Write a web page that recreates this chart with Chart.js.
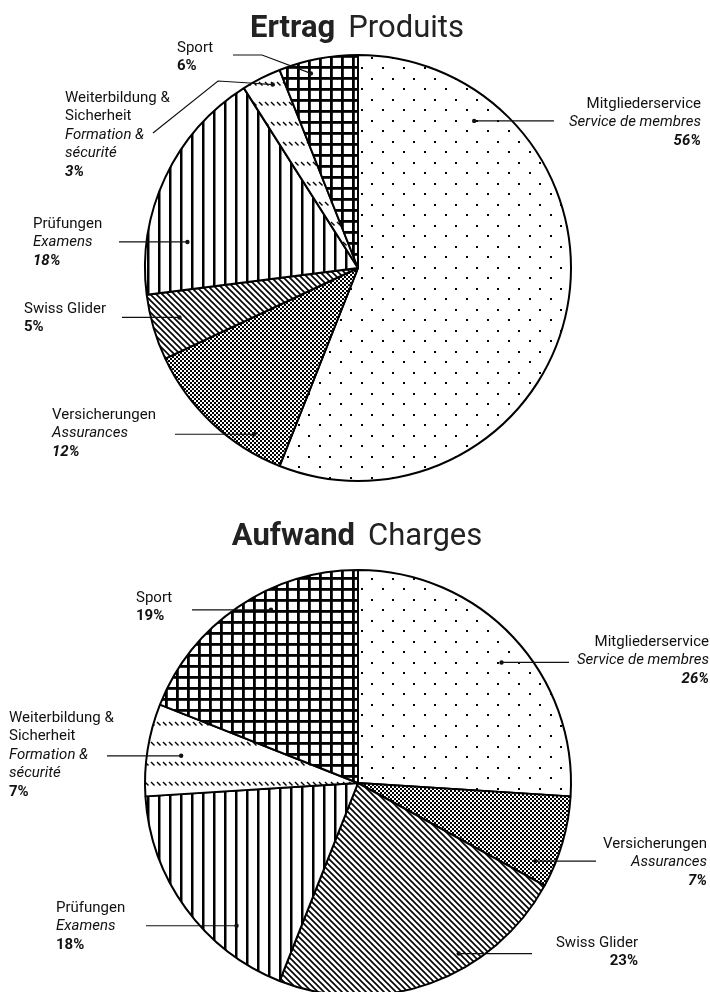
<!DOCTYPE html>
<html>
<head>
<meta charset="utf-8">
<script src="https://cdn.jsdelivr.net/npm/chart.js@4"></script>
<style>
html, body { margin: 0; padding: 0; background: #fff; overflow: hidden; }
#wrap { position: relative; width: 710px; height: 992px; overflow: hidden; }
canvas { position: absolute; left: 0; }
</style>
</head>
<body>
<div id="wrap">
  <canvas id="ertrag" width="710" height="500" style="top:0;width:710px;height:500px"></canvas>
  <canvas id="aufwand" width="710" height="510" style="top:500px;width:710px;height:510px"></canvas>
</div>
<script>
// data
const categoriesDe = ["Mitgliederservice", "Versicherungen", "Swiss Glider", "Prüfungen", ["Weiterbildung &", "Sicherheit"], "Sport"];
const categoriesFr = ["Service de membres", "Assurances", "", "Examens", ["Formation &", "sécurité"], ""];
const ertragValues = [56, 12, 5, 18, 3, 6];
const aufwandValues = [26, 7, 23, 18, 7, 19];

// label placement (at = position inside slice, r = fraction of radius)
const ertragLayout = [
    { at: 0.19, r: 0.88, align: "right", x: 701, y: 104, italicPct: true, leader: [[554]] },
    { at: 0.24, r: 0.92, align: "left", x: 52, y: 415, italicPct: true, leader: [[175]] },
    { at: 0.54, r: 0.87, align: "left", x: 24, y: 309, italicPct: false, leader: [[122]] },
    { at: 0.245, r: 0.81, align: "left", x: 33, y: 224, italicPct: true, leader: [[119]] },
    { at: 0.69, r: 0.95, align: "left", x: 65, y: 98, italicPct: true, leader: [[250, 83], [218, 81], [153, 133]] },
    { at: 0.37, r: 0.94, align: "left", x: 177, y: 48, italicPct: false, leader: [[262, 55], [233, 55]] }
];
const aufwandLayout = [
    { at: 0.534, r: 0.88, align: "right", x: 709, y: 142, italicPct: true, leader: [[569]] },
    { at: 0.80, r: 0.91, align: "right", x: 707, y: 344, italicPct: true, leader: [[596]] },
    { at: 0.37, r: 0.93, align: "right", x: 638, y: 443, italicPct: false, leader: [[532]] },
    { at: 0.29, r: 0.88, align: "left", x: 56, y: 408, italicPct: false, leader: [[146]] },
    { at: 0.49, r: 0.84, align: "left", x: 9, y: 218, italicPct: false, leader: [[107]] },
    { at: 0.61, r: 0.91, align: "left", x: 136, y: 98, italicPct: false, leader: [[192]] }
];

const FONT = "Roboto";
const INK = "#111";

function makePattern(ctx, w, h, draw) {
    const c = document.createElement("canvas");
    c.width = w;
    c.height = h;
    const g = c.getContext("2d");
    g.fillStyle = "#fff";
    g.fillRect(0, 0, w, h);
    g.fillStyle = "#000";
    g.strokeStyle = "#000";
    draw(g, w, h);
    return ctx.createPattern(c, "repeat");
}

function slicePatterns(ctx) {
    return [
        // dots
        makePattern(ctx, 21, 21, g => {
            g.fillRect(4, 4, 2, 2);
            g.fillRect(14, 15, 2, 2);
        }),
        // fine checker
        makePattern(ctx, 4, 4, g => {
            g.fillRect(0, 0, 2, 2);
            g.fillRect(2, 2, 2, 2);
        }),
        // diagonal lines
        makePattern(ctx, 6, 6, g => {
            g.lineWidth = 1.6;
            g.beginPath();
            g.moveTo(-1, -1); g.lineTo(7, 7);
            g.moveTo(-1, 5); g.lineTo(1, 7);
            g.moveTo(5, -1); g.lineTo(7, 1);
            g.stroke();
        }),
        // vertical lines
        makePattern(ctx, 11, 11, g => {
            g.fillRect(4, 0, 2.5, 11);
        }),
        // rows of small dashes
        makePattern(ctx, 6, 20, g => {
            g.lineWidth = 1.4;
            g.beginPath();
            g.moveTo(1, 2); g.lineTo(4.5, 5.5);
            g.stroke();
        }),
        // grid
        makePattern(ctx, 11, 11, g => {
            g.fillRect(0, 0, 11, 2.8);
            g.fillRect(0, 0, 2.8, 11);
        })
    ];
}

function asLines(v) {
    if (!v) return [];
    return Array.isArray(v) ? v : [v];
}

const labelPlugin = {
    id: "pieLabels",
    afterDatasetsDraw(chart, args, opts) {
        const ctx = chart.ctx;
        const arcs = chart.getDatasetMeta(0).data;
        const values = chart.data.datasets[0].data;
        ctx.save();

        // title
        ctx.fillStyle = "#222";
        ctx.textBaseline = "alphabetic";
        ctx.font = "bold 31px " + FONT;
        const w1 = ctx.measureText(opts.title[0]).width;
        ctx.font = "31px " + FONT;
        const w2 = ctx.measureText(opts.title[1]).width;
        const gap = 13;
        let tx = opts.titleX - (w1 + gap + w2) / 2;
        ctx.textAlign = "left";
        ctx.font = "bold 31px " + FONT;
        ctx.fillText(opts.title[0], tx, opts.titleY);
        ctx.font = "31px " + FONT;
        ctx.fillText(opts.title[1], tx + w1 + gap, opts.titleY);

        arcs.forEach((arc, i) => {
            const lay = opts.layout[i];
            const p = arc.getProps(["x", "y", "startAngle", "endAngle", "outerRadius"], true);
            const a = p.startAngle + lay.at * (p.endAngle - p.startAngle);
            const dx = p.x + Math.cos(a) * p.outerRadius * lay.r;
            const dy = p.y + Math.sin(a) * p.outerRadius * lay.r;

            // leader line
            ctx.strokeStyle = INK;
            ctx.lineWidth = 1.2;
            ctx.beginPath();
            ctx.moveTo(dx, dy);
            lay.leader.forEach(pt => ctx.lineTo(pt[0], pt.length > 1 ? pt[1] : dy));
            ctx.stroke();
            ctx.fillStyle = INK;
            ctx.beginPath();
            ctx.arc(dx, dy, 2.2, 0, Math.PI * 2);
            ctx.fill();

            // text
            const lines = [];
            asLines(opts.de[i]).forEach(t => lines.push([t, ""]));
            asLines(opts.fr[i]).forEach(t => lines.push([t, "italic "]));
            lines.push([values[i] + "%", (lay.italicPct ? "italic " : "") + "bold "]);
            ctx.textAlign = lay.align;
            ctx.textBaseline = "middle";
            lines.forEach((ln, k) => {
                ctx.font = ln[1] + "15px " + FONT;
                ctx.fillText(ln[0], lay.x, lay.y + k * 18.5);
            });
        });
        ctx.restore();
    }
};

function makePie(id, values, layout, title, titleY, pad) {
    const ctx = document.getElementById(id).getContext("2d");
    return new Chart(ctx, {
        type: "pie",
        data: {
            labels: categoriesDe.map(c => asLines(c).join(" ")),
            datasets: [{
                data: values,
                backgroundColor: slicePatterns(ctx),
                borderColor: "#000",
                borderWidth: 2,
                hoverOffset: 0
            }]
        },
        options: {
            responsive: false,
            animation: false,
            events: [],
            layout: { padding: pad },
            plugins: {
                legend: { display: false },
                tooltip: { enabled: false },
                pieLabels: {
                    title: title,
                    titleX: 357,
                    titleY: titleY,
                    layout: layout,
                    de: categoriesDe,
                    fr: categoriesFr
                }
            }
        },
        plugins: [labelPlugin]
    });
}

makePie("ertrag", ertragValues, ertragLayout, ["Ertrag", "Produits"], 37,
    { left: 144, right: 138, top: 54, bottom: 18 });
makePie("aufwand", aufwandValues, aufwandLayout, ["Aufwand", "Charges"], 45,
    { left: 144, right: 138, top: 69, bottom: 13 });
</script>
</body>
</html>
